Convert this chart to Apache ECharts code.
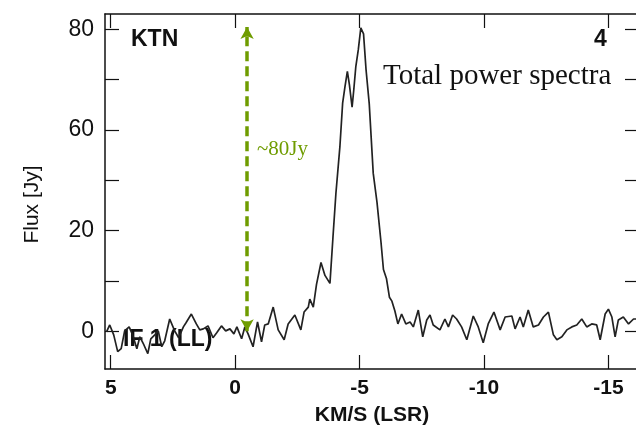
<!DOCTYPE html>
<html>
<head>
<meta charset="utf-8">
<script src="https://cdn.jsdelivr.net/npm/echarts@6/dist/echarts.min.js"></script>
<style>
  html, body { margin: 0; padding: 0; background: #fff; overflow: hidden; }
  /* a bit wider than the window so the right frame falls just off the picture */
  #main { width: 642px; height: 431px; }
</style>
</head>
<body>
<div id="main"></div>
<script>
// velocity (km/s, LSR)
var velocity = [
  5.17, 5.04, 4.88, 4.72, 4.58, 4.44, 4.26, 4.12, 3.95, 3.83, 3.67, 3.51, 3.39, 3.23, 3.09,
  2.95, 2.83, 2.63, 2.43, 2.27, 2.08, 1.98, 1.76, 1.56, 1.42, 1.28, 1.09, 0.89, 0.74, 0.55,
  0.38, 0.21, 0.05, -0.07, -0.26, -0.39, -0.52, -0.72, -0.90, -1.06, -1.19, -1.33, -1.53,
  -1.73, -1.97, -2.13, -2.40, -2.64, -2.77, -2.94, -3.00, -3.14, -3.27, -3.45, -3.61, -3.81,
  -3.93, -4.05, -4.21, -4.32, -4.41, -4.51, -4.59, -4.70, -4.77, -4.85, -4.95, -5.05, -5.16,
  -5.26, -5.39, -5.55, -5.70, -5.86, -5.96, -6.08, -6.20, -6.30, -6.42, -6.54, -6.69, -6.86,
  -7.03, -7.16, -7.36, -7.54, -7.70, -7.83, -7.96, -8.23, -8.43, -8.57, -8.74, -8.90, -9.10,
  -9.31, -9.57, -9.77, -9.97, -10.17, -10.40, -10.65, -10.85, -11.12, -11.25, -11.45, -11.58,
  -11.78, -11.98, -12.19, -12.39, -12.59, -12.79, -12.93, -13.13, -13.33, -13.53, -13.73,
  -13.93, -14.13, -14.33, -14.53, -14.67, -14.87, -15.00, -15.14, -15.27, -15.40, -15.60,
  -15.81, -16.01, -16.11
];
// flux (Jy)
var flux = [
  -0.13, 1.70, -0.92, -5.38, -4.59, 0.13, 1.18, -0.92, -4.59, -1.44, -3.54, -5.90, -1.97, -0.92, 0.13,
  -4.07, -2.49, 3.28, 0.13, -1.70, 1.18, 2.23, 4.59, 1.97, 0.39, 0.66, 1.44, -1.70, -0.39, 1.44,
  0.13, 0.66, -0.66, 1.18, -1.97, 1.18, -0.66, -4.07, 2.49, -2.75, 1.70, 1.97, 6.43,
  0.39, -2.23, 1.97, 4.33, 0.39, 5.11, 6.43, 8.52, 6.43, 12.46, 18.23, 14.82, 12.72,
  24.79, 36.59, 48.92, 60.46, 64.65, 68.85, 65.44, 59.41, 64.13, 70.16, 74.62, 80.39, 78.82,
  69.38, 60.20, 41.84, 34.23, 23.74, 16.39, 14.03, 9.05, 8.00, 5.38, 1.97, 4.59, 1.97,
  2.49, 1.18, 5.64, -1.44, 3.02, 4.33, 1.70, 0.39, 3.28, 1.18, 4.33, 3.28, 1.18,
  -2.23, 4.07, 1.18, -3.02, 1.97, 5.11, 0.39, 3.80, 4.07, 0.66, 3.80, 1.18,
  5.64, 1.18, 1.70, 3.80, 5.11, -0.92, -2.23, -1.44, 0.39, 1.18, 1.70,
  3.28, 1.18, 1.97, 1.70, -2.23, 4.59, 5.90, 3.80, -1.44, 3.02, 3.80,
  1.97, 3.28, 3.28
];

var xTicks = [5, 0, -5, -10, -15];
var yLabelValues = [0, 26.67, 53.33, 80];
var yTickValues = [0, 13.33, 26.67, 40, 53.33, 66.67, 80];
var yTickLabels = ["0", "20", "60", "80"];

// annotation: arrow at -0.5 km/s from 0 to ~80 Jy
var arrowVelocity = -0.48;
var arrowRange = [0, 80.6];

var sans = "Liberation Sans, Arial, sans-serif";
var serif = "Liberation Serif, Times New Roman, serif";
var green = "#6f9c00";

var points = velocity.map(function (v, i) {
  return [v, flux[i]];
});

var axisLine = { show: true, onZero: false, lineStyle: { color: "#111", width: 1.5 } };
var tickStyle = { color: "#111", width: 1.2 };

var myChart = echarts.init(document.getElementById("main"));
myChart.setOption({
  animation: false,
  grid: { left: 105, right: 3, top: 14, bottom: 58.5 },
  xAxis: [
    {
      type: "value",
      inverse: true,
      min: -16.23,
      max: 5.23,
      axisLine: axisLine,
      splitLine: { show: false },
      axisTick: { inside: true, length: 14, lineStyle: tickStyle, customValues: xTicks },
      axisLabel: {
        customValues: xTicks,
        color: "#111",
        fontFamily: sans,
        fontWeight: "bold",
        fontSize: 21,
        margin: 9,
      },
      name: "KM/S (LSR)",
      nameLocation: "middle",
      nameGap: 36,
      nameTextStyle: { color: "#111", fontFamily: sans, fontWeight: "bold", fontSize: 21 },
    },
    {
      type: "value",
      position: "top",
      inverse: true,
      min: -16.23,
      max: 5.23,
      axisLine: axisLine,
      splitLine: { show: false },
      axisTick: { inside: true, length: 14, lineStyle: tickStyle, customValues: xTicks },
      axisLabel: { show: false },
    },
  ],
  yAxis: [
    {
      type: "value",
      min: -9.97,
      max: 84.07,
      axisLine: axisLine,
      splitLine: { show: false },
      axisTick: { inside: true, length: 14, lineStyle: tickStyle, customValues: yTickValues },
      axisLabel: {
        customValues: yLabelValues,
        color: "#111",
        fontFamily: sans,
        fontSize: 23,
        margin: 11,
        formatter: function (value) {
          var i = yLabelValues.indexOf(value);
          return i >= 0 ? yTickLabels[i] : "";
        },
      },
      name: "Flux [Jy]",
      nameLocation: "middle",
      nameGap: 62,
      nameTextStyle: { color: "#111", fontFamily: sans, fontSize: 21, padding: [0, 26, 0, 0] },
    },
    {
      type: "value",
      position: "right",
      min: -9.97,
      max: 84.07,
      axisLine: axisLine,
      splitLine: { show: false },
      axisTick: { inside: true, length: 14, lineStyle: tickStyle, customValues: yTickValues },
      axisLabel: { show: false },
    },
  ],
  series: [
    {
      type: "line",
      data: points,
      showSymbol: false,
      symbol: "none",
      lineStyle: { color: "#222", width: 1.7 },
      markLine: {
        silent: true,
        symbol: ["arrow", "arrow"],
        symbolSize: [10, 12],
        label: { show: false },
        lineStyle: { color: green, width: 3.5, type: [10, 5] },
        data: [
          [
            { coord: [arrowVelocity, arrowRange[0]] },
            { coord: [arrowVelocity, arrowRange[1]] },
          ],
        ],
      },
    },
  ],
  graphic: [
    {
      type: "text", left: 131, top: 28,
      style: { text: "KTN", fill: "#111", font: "bold 23px " + sans },
    },
    {
      type: "text", left: 594, top: 28,
      style: { text: "4", fill: "#111", font: "bold 23px " + sans },
    },
    {
      type: "text", left: 383, top: 62,
      style: { text: "Total power spectra", fill: "#111", font: "29px " + serif },
    },
    {
      type: "text", left: 257, top: 139,
      style: { text: "~80Jy", fill: green, font: "21px " + serif },
    },
    {
      type: "text", left: 123, top: 328,
      style: { text: "IF 1 (LL)", fill: "#111", font: "bold 23px " + sans },
    },
  ],
});
</script>
</body>
</html>
